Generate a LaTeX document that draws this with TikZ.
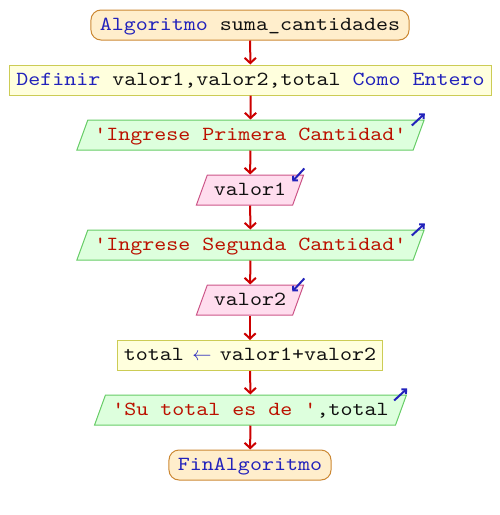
\documentclass[tikz,border=0pt]{standalone}
\usepackage{fontspec}
\setmonofont[Extension=.otf,FakeStretch=1.143]{lmmono10-regular}
\usetikzlibrary{shapes.geometric,arrows.meta}

\definecolor{terminofill}{RGB}{255,238,204}
\definecolor{terminoline}{RGB}{204,136,51}
\definecolor{procesofill}{RGB}{255,255,221}
\definecolor{procesoline}{RGB}{204,204,85}
\definecolor{salidafill}{RGB}{221,255,221}
\definecolor{salidaline}{RGB}{102,204,102}
\definecolor{entradafill}{RGB}{255,221,238}
\definecolor{entradaline}{RGB}{204,85,136}
\definecolor{flujo}{RGB}{204,0,0}
\definecolor{clave}{RGB}{34,34,187}
\definecolor{cadena}{RGB}{187,17,0}
\definecolor{ident}{RGB}{17,17,17}

\newcommand{\kw}[1]{\textcolor{clave}{#1}}
\newcommand{\str}[1]{\textcolor{cadena}{#1}}
\newcommand{\asigna}{\makebox[27pt]{\kw{$\leftarrow$}}}

\tikzset{every picture/.style={line width=0.75pt}}

\begin{document}
\begin{tikzpicture}[x=0.75pt,y=0.75pt,yscale=-1,xscale=1,
  font=\ttfamily\fontsize{15}{18}\selectfont,
  caja/.style={text=ident, text height=11pt, text depth=3.5pt, inner ysep=4pt, inner xsep=5pt},
  termino/.style={caja, draw=terminoline, fill=terminofill, rounded corners=7.5pt, inner xsep=6.75pt},
  proceso/.style={caja, draw=procesoline, fill=procesofill},
  salida/.style={caja, trapezium, trapezium left angle=70, trapezium right angle=110, draw=salidaline, fill=salidafill},
  entrada/.style={caja, trapezium, trapezium left angle=70, trapezium right angle=110, draw=entradaline, fill=entradafill},
  flecha/.style={draw=flujo, line width=1.5pt, -{Straight Barb[length=4pt,width=8.5pt]}},
  es/.style={draw=clave, line width=1.5pt, -{Straight Barb[length=2.5pt,width=5pt]}}]
\useasboundingbox (0,0) rectangle (500,515);

%Nodes
\node[termino] (inicio) at (250,25) {\kw{Algoritmo} suma\_cantidades};
\node[proceso] (definir) at (250.5,80) {\kw{Definir} valor1,valor2,total \kw{Como} \kw{Entero}};
\node[salida] (msg1) at (250.5,135) {\str{'Ingrese Primera Cantidad'}};
\node[entrada] (leer1) at (250,190) {valor1};
\node[salida] (msg2) at (250.5,245) {\str{'Ingrese Segunda Cantidad'}};
\node[entrada] (leer2) at (250,300) {valor2};
\node[proceso] (suma) at (250,355.5) {total\asigna valor1+valor2};
\node[salida, inner xsep=5.25pt] (msg3) at (250.5,410) {\str{'Su total es de '},total};
\node[termino] (fin) at (250,465) {\kw{FinAlgoritmo}};

%Flow
\draw[flecha] (inicio) -- (definir);
\draw[flecha] (definir) -- (msg1);
\draw[flecha] (msg1) -- (leer1);
\draw[flecha] (leer1) -- (msg2);
\draw[flecha] (msg2) -- (leer2);
\draw[flecha] (leer2) -- (suma);
\draw[flecha] (suma) -- (msg3);
\draw[flecha] (msg3) -- (fin);

%Input / output marks
\foreach \n in {msg1,msg2,msg3}
  \draw[es] ([shift={(-13,6)}]\n.top right corner) -- ([shift={(0,-6)}]\n.top right corner);
\foreach \n in {leer1,leer2}
  \draw[es] ([shift={(0,-6)}]\n.top right corner) -- ([shift={(-12,7)}]\n.top right corner);

\end{tikzpicture}
\end{document}
